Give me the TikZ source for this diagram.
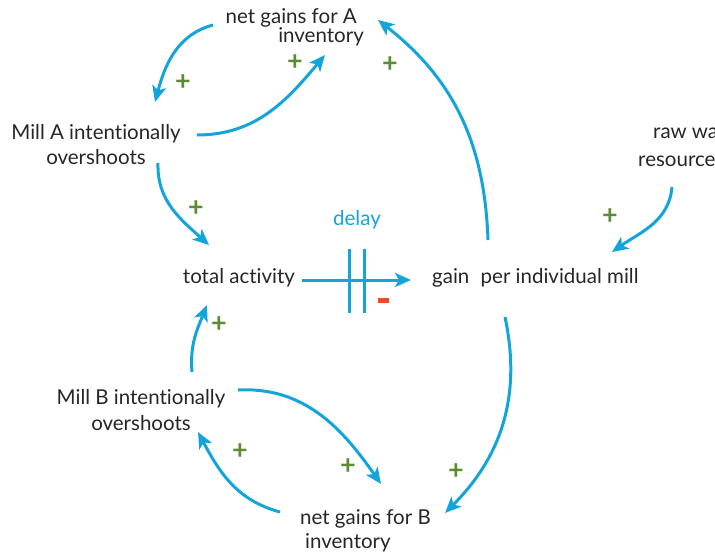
\documentclass[tikz,border=0pt]{standalone}
\usepackage{fontspec}
\setmainfont{Lato}[Ligatures=NoCommon]
\usetikzlibrary{arrows.meta}
\definecolor{linkblue}{HTML}{12A4DA}
\definecolor{plusgreen}{HTML}{5B8C32}
\definecolor{minusred}{HTML}{EE4B22}
\begin{document}
\begin{tikzpicture}[x=1pt,y=1pt,
  var/.style={font=\fontsize{20.5}{25}\selectfont, text=black!85, inner sep=0pt},
  link/.style={draw=linkblue, line width=3pt, -{Stealth[length=16pt,width=14pt,inset=4pt]}},
  pol/.style={text=plusgreen, font=\bfseries\fontsize{27}{27}\selectfont, inner sep=0pt},
]
\useasboundingbox (0,0) rectangle (715,-558);
\clip (0,0) rectangle (715,-558);

% variables
\node[var, anchor=east, align=right, font=\fontsize{20.5}{19}\selectfont] (netA) at (364,-27)
  {net gains for A\hspace*{7pt}\\inventory};
\node[var, align=center] (millA) at (96,-145) {Mill A intentionally\\overshoots};
\node[var, anchor=west, align=left, font=\fontsize{20.5}{28}\selectfont] (raw) at (638,-146)
  {\hspace*{15pt}raw water\\resources};
\node[var] (total) at (239,-278) {total activity};
\node[var, anchor=west] (gain) at (432,-278) {gain\hspace{0.55em}per individual mill};
\node[var, align=center, font=\fontsize{20.5}{26}\selectfont] (millB) at (141,-410)
  {Mill B intentionally\\overshoots};
\node[var, anchor=west, align=left, font=\fontsize{20.5}{24}\selectfont] (netB) at (300,-531)
  {net gains for B\\\hspace*{5pt}inventory};
\node[var, text=linkblue] (delay) at (357,-220) {delay};

% connector end points
\coordinate (a1) at (213,-25);  \coordinate (b1) at (155,-102);
\coordinate (a2) at (197,-135); \coordinate (b2) at (325,-55);
\coordinate (a3) at (488,-240); \coordinate (b3) at (378,-20);
\coordinate (a4) at (672,-187); \coordinate (b4) at (612,-252);
\coordinate (a5) at (158,-163); \coordinate (b5) at (209,-245);
\coordinate (a6) at (302,-280); \coordinate (b6) at (411,-280);
\coordinate (a7) at (192,-372); \coordinate (b7) at (207,-305);
\coordinate (a8) at (238,-390); \coordinate (b8) at (381,-484);
\coordinate (a9) at (505,-317); \coordinate (b9) at (445,-513);
\coordinate (a10) at (280,-512); \coordinate (b10) at (198,-432);

% causal links
\draw[link] (a1) to[out=195,in=75] (b1);
\draw[link] (a2) to[out=0,in=230] (b2);
\draw[link] (a3) to[out=92,in=-38] (b3);
\draw[link] (a4) to[out=265,in=35] (b4);
\draw[link] (a5) to[out=268,in=138] (b5);
\draw[link] (a6) -- (b6);
\draw[link] (a7) to[out=95,in=248] (b7);
\draw[link] (a8) to[out=3,in=125] (b8);
\draw[link] (a9) to[out=282,in=45] (b9);
\draw[link] (a10) to[out=165,in=-62] (b10);

% delay marks
\coordinate (d1t) at (349,-249); \coordinate (d1b) at (349,-313);
\coordinate (d2t) at (364,-249); \coordinate (d2b) at (364,-313);
\draw[linkblue, line width=3pt] (d1t) -- (d1b);
\draw[linkblue, line width=3pt] (d2t) -- (d2b);

% polarities
\node[pol] (p1) at (183,-83) {+};
\node[pol] (p2) at (295,-63) {+};
\node[pol] (p3) at (390,-65) {+};
\node[pol] (p4) at (610,-217) {+};
\node[pol] (p5) at (196,-209) {+};
\node[pol] (p6) at (219,-325) {+};
\node[pol] (p7) at (240,-452) {+};
\node[pol] (p8) at (348,-467) {+};
\node[pol] (p9) at (456,-472) {+};
\fill[minusred] (378,-298) rectangle (389,-303);
\end{tikzpicture}
\end{document}
